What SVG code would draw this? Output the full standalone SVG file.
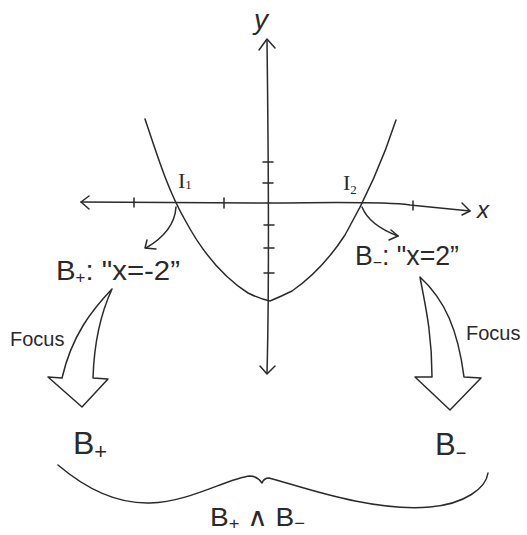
<svg xmlns="http://www.w3.org/2000/svg" width="527" height="535" viewBox="0 0 527 535">
<style>
.ln{fill:none;stroke:#2a2a2a;stroke-width:1.5;stroke-linecap:round;stroke-linejoin:round}
.t{font-family:"Liberation Sans","DejaVu Sans",sans-serif;fill:#2a2a2a}
.s{font-family:"Liberation Serif","DejaVu Serif",serif;fill:#2a2a2a}
.f{font-family:"Liberation Sans","DejaVu Sans",sans-serif;fill:#2a2a2a;font-size:20px}
</style>
<rect width="527" height="535" fill="#fff"/>
<g id="axes">
<path class="ln" d="M81,202 L268,203 C320,203 380,201 410,205 L470,211"/>
<path class="ln" d="M89,196 L81,202 L89,209"/>
<path class="ln" d="M462,203 L470,211 L462,215"/>
<path class="ln" d="M267,40 C268,130 270,260 267,373"/>
<path class="ln" d="M259,50 L267,39 L275,48"/>
<path class="ln" d="M260,366 L267,374 L275,366"/>
<path class="ln" d="M134,198 V207 M224,198 V208 M413,201 V210"/>
<path class="ln" d="M263,162 H273 M263,183 H273 M264,225 H274 M264,248 H274 M264,273 H274"/>
<text class="t" x="254" y="29" font-size="28" font-style="italic">y</text>
<text class="t" x="477" y="218" font-size="24" font-style="italic">x</text>
</g>
<g id="parabola">
<path class="ln" d="M145,119 C158,158 168,190 185,220 C200,248 220,275 248,293 Q260,299 270,301 Q282,296 292,291 C315,275 332,255 345,235 C365,200 383,160 396,120"/>
</g>
<g id="I1">
<text class="s" x="178" y="188" font-size="22">I<tspan font-size="13" dy="1">1</tspan></text>
</g>
<g id="I2">
<text class="s" x="343" y="190" font-size="22">I<tspan font-size="13" dy="4">2</tspan></text>
</g>
<g id="Bplus-cond">
<text class="t" x="56" y="280" font-size="28" textLength="124" lengthAdjust="spacingAndGlyphs">B<tspan font-size="16" dy="3">+</tspan><tspan dy="-3">: "x=-2”</tspan></text>
</g>
<g id="Bminus-cond">
<text class="t" x="355" y="265" font-size="27" textLength="104" lengthAdjust="spacingAndGlyphs">B<tspan font-size="16" dy="3">−</tspan><tspan dy="-3">: "x=2”</tspan></text>
</g>
<g id="Bplus">
<text class="t" x="73" y="454" font-size="32">B<tspan font-size="22" dy="5">+</tspan></text>
</g>
<g id="Bminus">
<text class="t" x="435" y="455" font-size="31">B<tspan font-size="18" dy="4">−</tspan></text>
</g>
<g id="conj">
<text class="t" x="210" y="526" font-size="26" textLength="95" lengthAdjust="spacingAndGlyphs">B<tspan font-size="17" dy="3">+</tspan><tspan dy="-3"> ∧ B</tspan><tspan font-size="17" dy="3">−</tspan></text>
</g>
<g id="connectors">
<path class="ln" d="M176,207 C175,225 163,238 146,248"/>
<path class="ln" d="M147,240 L145,248 L156,249"/>
<path class="ln" d="M362,207 C368,222 382,230 398,236"/>
<path class="ln" d="M391,230 L398,236 L389,240"/>
<path class="ln" d="M112,289 C92,310 72,335 62,378 L48,377 L82,407 L108,379 L93,378 C94,345 100,315 112,289 Z"/>
<text class="f" x="10" y="346">Focus</text>
<path class="ln" d="M420,277 C424,300 432,330 432,377 L415,377 L450,410 L481,378 L464,377 C458,330 445,300 420,277 Z"/>
<text class="f" x="466" y="340">Focus</text>
<path class="ln" d="M58,465 C85,488 115,504 150,503 C190,502 228,478 250,476 Q257,476 262,483 Q264,478 269,478 C300,486 370,512 430,507 C465,504 486,488 488,473"/>
</g>
</svg>
